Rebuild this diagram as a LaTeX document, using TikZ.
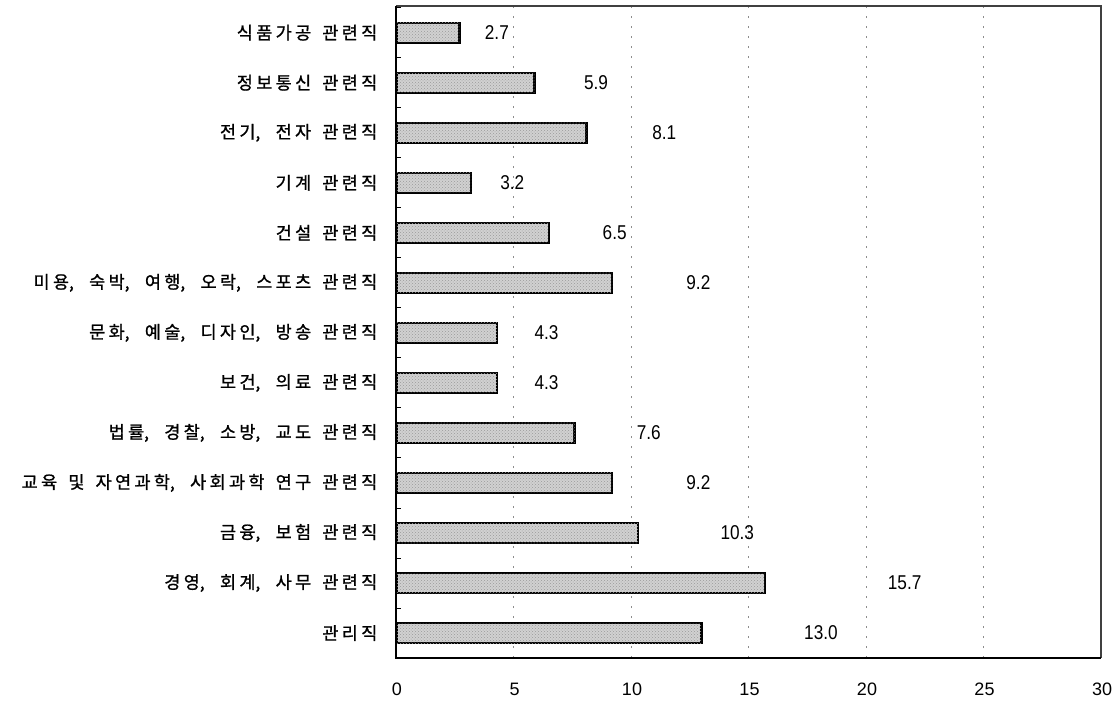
\documentclass[tikz,border=0pt]{standalone}
\usepackage{fontspec}
\setmainfont{Liberation Sans}
\newfontfamily\kr[FakeBold=1,LetterSpace=19]{Noto Sans CJK KR}
\newcommand\krc{\makebox[9pt][l]{,}}
\newcommand\krfont{\kr\fontsize{17.5}{17.5}\selectfont\spaceskip=11.15pt\relax}
\usetikzlibrary{patterns}
\begin{document}
\begin{tikzpicture}[x=1pt,y=-1pt,
  barbox/.style={draw=black, line width=2.4pt, fill=black!18, postaction={pattern=crosshatch dots, pattern color=black!40}},
  catlabel/.style={anchor=east, inner sep=0pt, font=\krfont},
  vallabel/.style={anchor=west, inner sep=0pt, font=\fontsize{20}{20}\selectfont},
  ticklabel/.style={anchor=center, inner sep=0pt, font=\fontsize{18}{18}\selectfont},
  gridline/.style={black!45, line width=0.6pt, dash pattern=on 2pt off 8pt},
  frameline/.style={black!75, line width=1.2pt},
  axisline/.style={black, line width=1.6pt}]
\useasboundingbox (0,0) rectangle (1117,702);
% grid
\foreach \g in {5,10,15,20,25} {
  \coordinate (gb\g) at ({396+23.5*\g},658);
  \coordinate (gt\g) at ({396+23.5*\g},6);
  \draw[gridline] (gb\g) -- (gt\g);
}
% frame and axes
\coordinate (o) at (396,658);
\coordinate (tl) at (396,6);
\coordinate (tr) at (1101,6);
\coordinate (br) at (1101,658);
\draw[frameline] (tl) -- (tr) -- (br);
\draw[axisline] (tl) -- (o) -- (br);
% y ticks
\foreach \k in {0,...,13} {
  \coordinate (ya\k) at (396,{7.7+50.03*\k});
  \coordinate (yb\k) at (401,{7.7+50.03*\k});
  \draw[line width=1pt] (ya\k) -- (yb\k);
}
% x tick labels
\foreach \g in {0,5,10,15,20,25,30} {
  \node[ticklabel] (t\g) at ({396+23.5*\g+1},689) {\g};
}
% bars
\foreach \i/\t/\v in {
  1/{식품가공 관련직}/2.7,
  2/{정보통신 관련직}/5.9,
  3/{전기\krc{} 전자 관련직}/8.1,
  4/{기계 관련직}/3.2,
  5/{건설 관련직}/6.5,
  6/{미용\krc{} 숙박\krc{} 여행\krc{} 오락\krc{} 스포츠 관련직}/9.2,
  7/{문화\krc{} 예술\krc{} 디자인\krc{} 방송 관련직}/4.3,
  8/{보건\krc{} 의료 관련직}/4.3,
  9/{법률\krc{} 경찰\krc{} 소방\krc{} 교도 관련직}/7.6,
  10/{교육 및 자연과학\krc{} 사회과학 연구 관련직}/9.2,
  11/{금융\krc{} 보험 관련직}/10.3,
  12/{경영\krc{} 회계\krc{} 사무 관련직}/15.7,
  13/{관리직}/13.0} {
  \pgfmathsetmacro{\cy}{32.7+50.03*(\i-1)}
  \pgfmathsetmacro{\xe}{396+23.5*\v}
  \pgfmathsetmacro{\xl}{401+31*\v}
  \draw[barbox] (397,{\cy-10}) rectangle (\xe,{\cy+10});
  \node[catlabel] (c\i) at (377.5,\cy) {\t};
  \node[vallabel] (v\i) at (\xl,\cy) {\scalebox{0.86}[1]{\v}};
}
\end{tikzpicture}
\end{document}
